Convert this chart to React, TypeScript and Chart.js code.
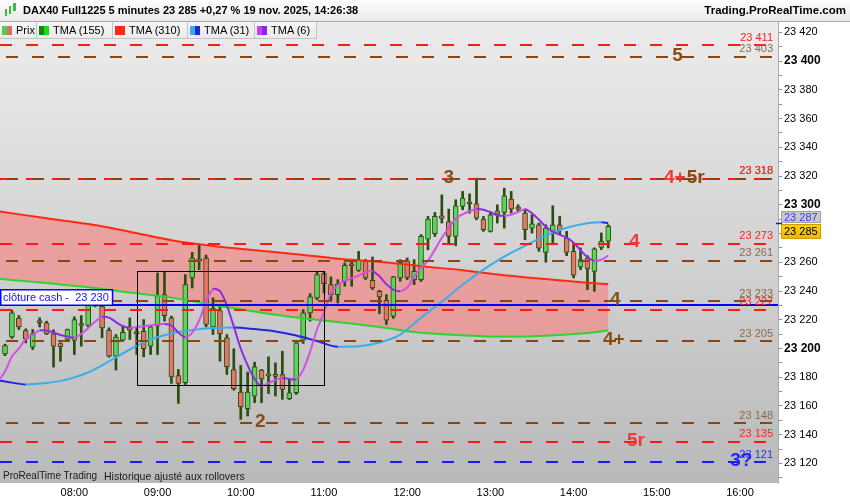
import React, { useEffect, useRef } from "react";
import { Chart, registerables } from "chart.js";

Chart.register(...registerables);

const FONT = "'Liberation Sans', Arial, Helvetica, sans-serif";

// ---------- candles (5 minutes) ----------
const candleTimes = [
  "07:10", "07:15", "07:20", "07:25", "07:30", "07:35", "07:40", "07:45", "07:50", "07:55",
  "08:00", "08:05", "08:10", "08:15", "08:20", "08:25", "08:30", "08:35", "08:40", "08:45", "08:50", "08:55",
  "09:00", "09:05", "09:10", "09:15", "09:20", "09:25", "09:30", "09:35", "09:40", "09:45", "09:50", "09:55",
  "10:00", "10:05", "10:10", "10:15", "10:20", "10:25", "10:30", "10:35", "10:40", "10:45", "10:50", "10:55",
  "11:00", "11:05", "11:10", "11:15", "11:20", "11:25", "11:30", "11:35", "11:40", "11:45", "11:50", "11:55",
  "12:00", "12:05", "12:10", "12:15", "12:20", "12:25", "12:30", "12:35", "12:40", "12:45", "12:50", "12:55",
  "13:00", "13:05", "13:10", "13:15", "13:20", "13:25", "13:30", "13:35", "13:40", "13:45", "13:50", "13:55",
  "14:00", "14:05", "14:10", "14:15", "14:20", "14:25",
];
const opens = [
  23196.3, 23208.1, 23221.1, 23212.5, 23200.9, 23218.5, 23217.8, 23210.2, 23203.5, 23206.3,
  23205.6, 23216.5, 23216, 23232, 23229.4, 23212.7, 23194.7, 23205.8, 23215, 23210.8, 23212, 23201.6,
  23215.5, 23237.5, 23221.3, 23181.2, 23176.2, 23249.1, 23261.5, 23263, 23215, 23226.4, 23207.4, 23185.4,
  23169.7, 23158.1, 23166.9, 23185, 23181.4, 23181, 23181.9, 23165, 23169.2, 23205.8, 23224.8, 23235.2,
  23252.1, 23244.4, 23237.5, 23246.8, 23257.9, 23254.4, 23260.7, 23247.5, 23239.8, 23233.6, 23222.5, 23249.1,
  23261, 23247.9, 23247.9, 23276.1, 23279.9, 23292.4, 23288.4, 23278, 23298.8, 23301.8, 23300.7, 23290,
  23281.5, 23295.8, 23294.7, 23303.9, 23298, 23294.2, 23283.8, 23286.1, 23266.9, 23281.5, 23286.1, 23276.9,
  23267.6, 23256.7, 23263, 23253.7, 23270.4, 23274.6,
];
const highs = [
  23203, 23226.6, 23222.9, 23213.7, 23213.2, 23221.3, 23219, 23213, 23204, 23213.5,
  23222, 23222.9, 23232.9, 23233, 23231.3, 23214.4, 23209.7, 23215.5, 23221.3, 23214.4, 23220.1, 23216,
  23252.6, 23253.7, 23222.5, 23185.4, 23251.4, 23266.9, 23272.2, 23265, 23235.2, 23229.4, 23209.7, 23199.8,
  23188.2, 23183.6, 23190.5, 23185.5, 23194.2, 23190, 23198.1, 23178.5, 23205.1, 23227.1, 23238.2, 23253.7,
  23253.7, 23249.8, 23247.9, 23259.5, 23260.7, 23267.6, 23262, 23263.7, 23240.5, 23237.5, 23250.2, 23261.8,
  23263, 23261.8, 23279.2, 23291.9, 23294.7, 23306.9, 23297, 23303.5, 23309.3, 23307.6, 23318.5, 23291.9,
  23295.4, 23300, 23311.6, 23309.3, 23300, 23297, 23293, 23287.3, 23286.1, 23299.3, 23292, 23281.5,
  23272.2, 23270, 23264.6, 23270, 23280.4, 23286.1,
];
const lows = [
  23195, 23207, 23213.2, 23203.9, 23199.3, 23215, 23209.7, 23187, 23191.2, 23205,
  23195.8, 23201.6, 23215, 23229, 23207.4, 23194, 23185, 23205, 23206.3, 23195.8, 23194.2, 23195.8,
  23195.8, 23219, 23175.7, 23161.8, 23175, 23242.1, 23254.9, 23215, 23209.7, 23191.2, 23181.9, 23171,
  23150.7, 23153, 23162.3, 23162.3, 23168.7, 23166.9, 23164.6, 23164.5, 23168, 23203.5, 23219, 23234,
  23238.7, 23232.9, 23231.7, 23243.3, 23243.3, 23253.7, 23248, 23241, 23224.3, 23216.7, 23221, 23246.8,
  23248, 23244.4, 23246.7, 23268.7, 23278, 23287.3, 23272.2, 23271.5, 23296.5, 23294.2, 23289.6, 23281.5,
  23281, 23287.3, 23283.8, 23294.2, 23295, 23275.7, 23280.3, 23267.6, 23260, 23272.2, 23279.2, 23264.6,
  23249.1, 23254.9, 23241, 23239.8, 23268.8, 23270,
];
const closes = [
  23202.1, 23224.8, 23215, 23206.7, 23210.2, 23218, 23210.2, 23201.6, 23201.2, 23213.2,
  23220.1, 23216, 23230.6, 23229.5, 23214.4, 23194.7, 23207.9, 23211.3, 23212.7, 23210.4, 23199.8, 23215,
  23236.3, 23222.9, 23180.3, 23175.7, 23244.4, 23263, 23261, 23216.7, 23228.2, 23210.4, 23187.3, 23172,
  23159.5, 23169.7, 23187.3, 23178.9, 23181, 23180.6, 23171.5, 23169.2, 23204, 23224.8, 23235.9, 23251.4,
  23245.1, 23237.5, 23244.9, 23257.9, 23257.5, 23261.3, 23249.1, 23242.1, 23235.9, 23219.7, 23249.8, 23260,
  23249.5, 23253.7, 23278, 23290, 23291.9, 23290.5, 23278, 23299.3, 23304.6, 23300.7, 23290.7, 23282.6,
  23293, 23293.5, 23306.2, 23297, 23297, 23282.6, 23286.8, 23269.9, 23283.8, 23286.1, 23282.6, 23266.9,
  23251, 23261.8, 23255.4, 23269.3, 23274.6, 23285,
];

// ---------- TMA (6) ----------
const tma6Times = ["07:05", ...candleTimes];
const tma6Values = [
  23177,
  23184.0, 23194.4, 23200.0, 23206.6, 23209.7, 23212.5, 23212.3, 23211.1, 23209.4, 23208.3,
  23207.6, 23210.1, 23214.2, 23218.8, 23221.9, 23221.5, 23218.4, 23215.6, 23214.4, 23214.9, 23215.4, 23216.1,
  23216.7, 23217.0, 23216.0, 23211.1, 23207.8, 23211.1, 23219.4, 23232.6, 23241.3, 23239.9, 23229.9, 23215.3,
  23200.0, 23188.2, 23178.8, 23173.9, 23176.0, 23178.1, 23179.5, 23178.8, 23178.6, 23185.1, 23197.9, 23213.2,
  23225.0, 23238.2, 23244.1, 23247.2, 23249.0, 23250.7, 23253.1, 23253.8, 23250.3, 23244.8, 23241.0, 23239.9,
  23242.4, 23250.0, 23256.3, 23261.1, 23268.8, 23277.1, 23284.0, 23290.3, 23293.4, 23295.5, 23297.0, 23296.5,
  23294.8, 23292.7, 23292.4, 23293.1, 23295.1, 23296.9, 23294.1, 23289.6, 23284.7, 23281.3, 23279.2, 23277.1,
  23273.6, 23268.4, 23263.5, 23261.1, 23261.8, 23264.6,
];

// ---------- TMA (31) ----------
const tma31Times = [
  "07:05", "07:10", "07:25", "07:40", "07:55", "08:10", "08:25", "08:40", "08:55", "09:10", "09:25",
  "09:40", "09:55", "10:10", "10:25", "10:40", "10:55", "11:10", "11:25", "11:40", "11:55", "12:10",
  "12:25", "12:40", "12:55", "13:10", "13:25", "13:40", "13:55", "14:10", "14:20", "14:25",
];
const tma31Values = [
  23177.8, 23177.1, 23175.0, 23176.0, 23178.5, 23183.3, 23191.0, 23199.3, 23206.3, 23210.4, 23212.8,
  23214.2, 23214.6, 23213.5, 23211.8, 23209.0, 23205.2, 23201.3, 23201.6, 23204.2, 23209.7, 23221.5,
  23232.6, 23244.4, 23254.9, 23263.9, 23271.5, 23278.5, 23284.0, 23287.2, 23287.8, 23287.4,
];

// ---------- TMA (155) and TMA (310) ----------
const tmaLongTimes = [
  "07:05", "07:40", "08:10", "08:40", "09:10", "09:40", "10:10", "10:40",
  "11:10", "11:40", "12:10", "12:40", "13:10", "13:40", "14:10", "14:25",
];
const tma155Values = [
  23248.6, 23245.5, 23242.7, 23239.0, 23235.4, 23230.3, 23225.7, 23221.5,
  23218.4, 23214.9, 23210.9, 23209.2, 23208.3, 23208.9, 23210.8, 23212.5,
];
const tma310Values = [
  23295.5, 23290.6, 23286.6, 23281.3, 23275.3, 23271.4, 23268.4, 23265.6,
  23262.5, 23260.4, 23257.3, 23254.5, 23251.0, 23248.3, 23245.8, 23244.8,
];

// ---------- horizontal levels ----------
const redLevels = [23411, 23318, 23273, 23227, 23135];
const brownLevels = [23403, 23318, 23261, 23233, 23205, 23148];
const blueLevels = [23121];
const cashClose = 23230;

// ---------- level annotations ----------
const annoTexts = ["5", "3", "4+", "5r", "4", "4", "4+", "2", "5r", "3?"];
const annoTimes = ["15:15", "12:30", "15:13", "15:28", "14:44", "14:30", "14:29", "10:14", "14:45", "16:01"];
const annoValues = [23403, 23318, 23318, 23318, 23273, 23233, 23205, 23148, 23135, 23121];
const annoKinds = ["brown", "brown", "red", "brown", "red", "brown", "brown", "brown", "red", "blue"];

// ---------- range box ----------
const boxTimes = ["08:45", "11:00"];
const boxValues = [23174.3, 23253.7];

// ---------- axes ----------
const xMin = 426.4; // 07:06:24
const xMax = 987.4; // 16:27:24
const yMin = 23106.4;
const yMax = 23427.2;
const xTickHours = [8, 9, 10, 11, 12, 13, 14, 15, 16];
const yTickValues = [
  23110, 23120, 23130, 23140, 23150, 23160, 23170, 23180, 23190, 23200, 23210,
  23220, 23230, 23240, 23250, 23260, 23270, 23280, 23290, 23300, 23310, 23320,
  23330, 23340, 23350, 23360, 23370, 23380, 23390, 23400, 23410, 23420,
];

const legendItems = [
  { label: "Prix", c1: "#4fcf4f", c2: "#e06a62", w: 37 },
  { label: "TMA (155)", c1: "#0a8a0a", c2: "#16e016", w: 76 },
  { label: "TMA (310)", c1: "#ff2a10", c2: "#ff2a10", w: 75 },
  { label: "TMA (31)", c1: "#3aaeea", c2: "#2020f0", w: 67 },
  { label: "TMA (6)", c1: "#c842ee", c2: "#8a24ee", w: 62 },
];

const COLORS = {
  red: "#ff1a1a",
  brown: "#8b4513",
  blue: "#1a1aff",
  redText: "#ff2020",
  brownText: "#8a6a4a",
  blueText: "#2a2aff",
  annoRed: "#f23838",
  annoBrown: "#8b4a14",
  annoBlue: "#2424ff",
};

const toMin = (t: string) => {
  const [h, m] = t.split(":").map(Number);
  return h * 60 + m;
};
const fmtPrice = (v: number) => {
  const s = String(Math.round(v));
  return s.slice(0, -3) + " " + s.slice(-3);
};
const pad2 = (n: number) => String(n).padStart(2, "0");

export default function App() {
  const ref = useRef<HTMLCanvasElement | null>(null);

  useEffect(() => {
    const canvas = ref.current;
    if (!canvas) return;

    const bgPlugin = {
      id: "plotBackground",
      beforeDraw(chart: any) {
        const { ctx, chartArea: a } = chart;
        ctx.save();
        const g = ctx.createLinearGradient(0, a.top, 0, a.bottom);
        g.addColorStop(0, "#ececec");
        g.addColorStop(1, "#b9b9b9");
        ctx.fillStyle = g;
        ctx.fillRect(a.left, a.top, a.right - a.left, a.bottom - a.top);
        ctx.restore();
      },
    };

    const overlayPlugin = {
      id: "overlay",
      afterDraw(chart: any) {
        const { ctx, chartArea: a } = chart;
        const xs = chart.scales.x;
        const ys = chart.scales.y;
        ctx.save();
        ctx.beginPath();
        ctx.rect(a.left, a.top, a.right - a.left, a.bottom - a.top);
        ctx.clip();

        // range box
        const bx1 = Math.round(xs.getPixelForValue(toMin(boxTimes[0]))) + 0.5;
        const bx2 = Math.round(xs.getPixelForValue(toMin(boxTimes[1]))) + 0.5;
        const by1 = Math.round(ys.getPixelForValue(boxValues[1])) + 0.5;
        const by2 = Math.round(ys.getPixelForValue(boxValues[0])) + 0.5;
        ctx.strokeStyle = "#000";
        ctx.lineWidth = 1;
        ctx.setLineDash([]);
        ctx.strokeRect(bx1, by1, bx2 - bx1, by2 - by1);

        const drawLevel = (v: number, color: string, offset: number) => {
          const y = Math.round(ys.getPixelForValue(v));
          ctx.beginPath();
          ctx.strokeStyle = color;
          ctx.lineWidth = 2;
          ctx.setLineDash([12, 14]);
          ctx.lineDashOffset = offset;
          ctx.moveTo(a.left, y);
          ctx.lineTo(a.right, y);
          ctx.stroke();
        };
        redLevels.forEach((v) => drawLevel(v, COLORS.red, 0));
        brownLevels.forEach((v) => drawLevel(v, COLORS.brown, 20));
        blueLevels.forEach((v) => drawLevel(v, COLORS.blue, 0));
        ctx.setLineDash([]);
        ctx.lineDashOffset = 0;

        // cash close (solid)
        const cy = Math.round(ys.getPixelForValue(cashClose));
        ctx.beginPath();
        ctx.strokeStyle = "#0000ff";
        ctx.lineWidth = 2;
        ctx.moveTo(a.left, cy);
        ctx.lineTo(a.right, cy);
        ctx.stroke();

        // level value labels
        ctx.font = `11px ${FONT}`;
        ctx.textAlign = "right";
        ctx.textBaseline = "alphabetic";
        const lvlLabel = (v: number, color: string) => {
          const y = ys.getPixelForValue(v);
          ctx.fillStyle = color;
          ctx.fillText(fmtPrice(v), a.right - 5, y - 4.5);
        };
        brownLevels.forEach((v) => lvlLabel(v, COLORS.brownText));
        redLevels.forEach((v) => lvlLabel(v, COLORS.redText));
        blueLevels.forEach((v) => lvlLabel(v, COLORS.blueText));

        // big annotations
        ctx.font = `bold 19px ${FONT}`;
        ctx.textAlign = "center";
        ctx.textBaseline = "middle";
        annoTexts.forEach((t, i) => {
          const k = annoKinds[i];
          ctx.fillStyle = k === "red" ? COLORS.annoRed : k === "blue" ? COLORS.annoBlue : COLORS.annoBrown;
          ctx.fillText(t, xs.getPixelForValue(toMin(annoTimes[i])), ys.getPixelForValue(annoValues[i]) - 1.5);
        });

        // cash close label box
        ctx.font = `11px ${FONT}`;
        const txt = `clôture cash -  ${fmtPrice(cashClose)}`;
        const tw = ctx.measureText(txt).width;
        const bh = 16;
        ctx.fillStyle = "#ffffff";
        ctx.fillRect(a.left, cy - bh, tw + 7, bh);
        ctx.strokeStyle = "#0000ff";
        ctx.lineWidth = 1.5;
        ctx.strokeRect(a.left + 0.75, cy - bh + 0.75, tw + 6, bh - 0.5);
        ctx.fillStyle = "#1010ff";
        ctx.textAlign = "left";
        ctx.textBaseline = "middle";
        ctx.fillText(txt, a.left + 3, cy - bh / 2 + 0.5);
        ctx.restore();

        // axis value boxes
        ctx.save();
        const lastTma = tma31Values[tma31Values.length - 1];
        const lastClose = closes[closes.length - 1];
        const yT = ys.getPixelForValue(lastTma);
        const yC = ys.getPixelForValue(lastClose);
        const left = a.right + 3;
        const w = 40;
        const top1 = Math.round(yT) - 12;
        const h1 = 12;
        const top2 = Math.max(Math.round(yC) - 3, top1 + h1 + 1);
        const h2 = 15;
        ctx.fillStyle = "#c9c9c9";
        ctx.fillRect(left, top1, w, h1);
        ctx.strokeStyle = "#a0a0a0";
        ctx.lineWidth = 1;
        ctx.strokeRect(left + 0.5, top1 + 0.5, w - 1, h1 - 1);
        const gg = ctx.createLinearGradient(0, top2, 0, top2 + h2);
        gg.addColorStop(0, "#ffd400");
        gg.addColorStop(1, "#f2b400");
        ctx.fillStyle = gg;
        ctx.fillRect(left, top2, w, h2);
        ctx.strokeStyle = "#c8a000";
        ctx.strokeRect(left + 0.5, top2 + 0.5, w - 1, h2 - 1);
        ctx.font = `11px ${FONT}`;
        ctx.textAlign = "left";
        ctx.textBaseline = "middle";
        ctx.fillStyle = "#3a3aff";
        ctx.fillText(fmtPrice(lastTma), left + 3, top1 + h1 / 2 + 0.5);
        ctx.fillStyle = "#000";
        ctx.fillText(fmtPrice(lastClose), left + 3, top2 + h2 / 2 + 0.5);
        ctx.beginPath();
        ctx.strokeStyle = "#1a1aa0";
        ctx.lineWidth = 1.5;
        ctx.moveTo(a.right - 2, Math.round(yT) + 0.5);
        ctx.lineTo(a.right + 4, Math.round(yT) + 0.5);
        ctx.stroke();
        ctx.restore();
      },
    };

    const candleX = candleTimes.map(toMin);
    const green = "#5ad65a";
    const red = "#e8746a";
    const dark = "#2a4d10";

    const chart = new Chart(canvas, {
      type: "line",
      data: {
        datasets: [
          {
            type: "line",
            label: "TMA (310)",
            data: tmaLongTimes.map((t, i) => ({ x: toMin(t), y: tma310Values[i] })),
            borderColor: "#ff2a10",
            borderWidth: 2,
            pointRadius: 0,
            cubicInterpolationMode: "monotone",
            fill: "+1",
            backgroundColor: "rgba(255,118,118,0.55)",
            order: 3,
          },
          {
            type: "line",
            label: "TMA (155)",
            data: tmaLongTimes.map((t, i) => ({ x: toMin(t), y: tma155Values[i] })),
            borderColor: "#2ed42e",
            borderWidth: 2,
            pointRadius: 0,
            cubicInterpolationMode: "monotone",
            fill: false,
            order: 3,
          },
          {
            type: "line",
            label: "TMA (31)",
            data: tma31Times.map((t, i) => ({ x: toMin(t), y: tma31Values[i] })),
            borderColor: "#3aaeea",
            borderWidth: 2,
            pointRadius: 0,
            cubicInterpolationMode: "monotone",
            fill: false,
            segment: {
              borderColor: (c: any) => (c.p1.parsed.y > c.p0.parsed.y ? "#3aaeea" : "#2424e0"),
            },
            order: 2,
          },
          {
            type: "line",
            label: "TMA (6)",
            data: tma6Times.map((t, i) => ({ x: toMin(t), y: tma6Values[i] })),
            borderColor: "#d64ee6",
            borderWidth: 2,
            pointRadius: 0,
            tension: 0.3,
            fill: false,
            segment: {
              borderColor: (c: any) => (c.p1.parsed.y > c.p0.parsed.y ? "#d64ee6" : "#8d2ae6"),
            },
            order: 1,
          },
          {
            type: "bar",
            label: "bodies",
            data: candleX.map((x, i) => ({ x, y: [opens[i], closes[i]] })) as any,
            backgroundColor: candleX.map((_, i) => (closes[i] >= opens[i] ? green : red)),
            borderColor: dark,
            borderWidth: 1,
            borderSkipped: false,
            barThickness: 5,
            minBarLength: 2,
            grouped: false,
            order: 4,
          } as any,
          {
            type: "bar",
            label: "wicks",
            data: candleX.map((x, i) => ({ x, y: [lows[i], highs[i]] })) as any,
            backgroundColor: dark,
            borderWidth: 0,
            barThickness: 2,
            grouped: false,
            order: 5,
          } as any,
        ],
      },
      options: {
        responsive: false,
        maintainAspectRatio: false,
        devicePixelRatio: 1,
        animation: false,
        events: [],
        layout: { padding: { top: 22, left: 0, right: 0, bottom: 0 } },
        plugins: {
          legend: { display: false },
          title: { display: false },
          tooltip: { enabled: false },
          filler: { drawTime: "beforeDatasetsDraw", propagate: false },
        } as any,
        scales: {
          x: {
            type: "linear",
            min: xMin,
            max: xMax,
            offset: false,
            afterBuildTicks: (s: any) => {
              s.ticks = xTickHours.map((h) => ({ value: h * 60 }));
            },
            ticks: {
              autoSkip: false,
              maxRotation: 0,
              padding: 3,
              color: "#000",
              font: { family: FONT, size: 11 },
              callback: (v: any) => `${pad2(Math.round(Number(v) / 60))}:00`,
            },
            grid: { display: false, drawTicks: false },
            border: { display: false },
            afterFit: (s: any) => {
              s.height = 17;
            },
          },
          y: {
            type: "linear",
            position: "right",
            min: yMin,
            max: yMax,
            afterBuildTicks: (s: any) => {
              s.ticks = yTickValues.map((v) => ({ value: v }));
            },
            ticks: {
              autoSkip: false,
              padding: 2,
              color: "#000",
              font: (c: any) => {
                const v = c.tick ? Math.round(c.tick.value) : 0;
                const major = v % 100 === 0;
                return { family: FONT, size: major ? 12 : 11, weight: major ? "bold" : "normal" };
              },
              callback: (v: any) => (Math.round(Number(v)) % 20 === 0 ? fmtPrice(Number(v)) : ""),
            },
            grid: { drawOnChartArea: false, drawTicks: true, tickLength: 4, color: "#8c8c8c" },
            border: { display: true, color: "#ababab" },
            afterFit: (s: any) => {
              s.width = 72;
            },
          },
        },
      } as any,
      plugins: [bgPlugin, overlayPlugin],
    });

    return () => chart.destroy();
  }, []);

  return (
    <div
      style={{
        position: "absolute",
        left: 0,
        top: 0,
        width: 850,
        height: 500,
        overflow: "hidden",
        background: "#ffffff",
        fontFamily: FONT,
      }}
    >
      <canvas ref={ref} width={850} height={500} style={{ position: "absolute", left: 0, top: 0 }} />
      {/* header */}
      <div
        style={{
          position: "absolute",
          left: 0,
          top: 0,
          width: 850,
          height: 22,
          boxSizing: "border-box",
          background: "linear-gradient(#fefefe, #e9e9e9)",
          borderBottom: "1px solid #a9a9a9",
        }}
      >
        <div style={{ position: "absolute", left: 5, top: 9, width: 2, height: 7, background: "#3cbf3c" }} />
        <div style={{ position: "absolute", left: 9, top: 6, width: 2, height: 8, background: "#3cbf3c" }} />
        <div style={{ position: "absolute", left: 13, top: 3, width: 3, height: 8, background: "#3cbf3c" }} />
        <div
          style={{
            position: "absolute",
            left: 23,
            top: 0,
            height: 21,
            lineHeight: "21px",
            fontSize: 11,
            fontWeight: "bold",
            color: "#000",
            whiteSpace: "nowrap",
          }}
        >
          DAX40 Full1225 5 minutes 23 285 +0,27 % 19 nov. 2025, 14:26:38
        </div>
        <div
          style={{
            position: "absolute",
            right: 4,
            top: 0,
            height: 21,
            lineHeight: "21px",
            fontSize: 11.5,
            fontWeight: "bold",
            color: "#000",
            whiteSpace: "nowrap",
          }}
        >
          Trading.ProRealTime.com
        </div>
      </div>
      {/* legend */}
      <div style={{ position: "absolute", left: 0, top: 22, height: 17, display: "flex" }}>
        {legendItems.map((it) => (
          <div
            key={it.label}
            style={{
              width: it.w,
              height: 17,
              boxSizing: "border-box",
              background: "linear-gradient(#f6f6f6, #ebebeb)",
              borderRight: "1px solid #c2c2c2",
              borderBottom: "1px solid #c2c2c2",
              display: "flex",
              alignItems: "center",
              paddingLeft: 2,
            }}
          >
            <div style={{ width: 5, height: 9, background: it.c1 }} />
            <div style={{ width: 5, height: 9, background: it.c2 }} />
            <div style={{ marginLeft: 4, fontSize: 11, color: "#000", whiteSpace: "nowrap" }}>{it.label}</div>
          </div>
        ))}
      </div>
      {/* footer note */}
      <div
        style={{
          position: "absolute",
          left: 3,
          top: 469,
          fontSize: 10,
          color: "#1a1a1a",
          whiteSpace: "nowrap",
          lineHeight: "14px",
        }}
      >
        ProRealTime Trading
      </div>
      <div
        style={{
          position: "absolute",
          left: 104,
          top: 469,
          fontSize: 10.5,
          color: "#1a1a1a",
          whiteSpace: "nowrap",
          lineHeight: "14px",
        }}
      >
        Historique ajusté aux rollovers
      </div>
    </div>
  );
}
